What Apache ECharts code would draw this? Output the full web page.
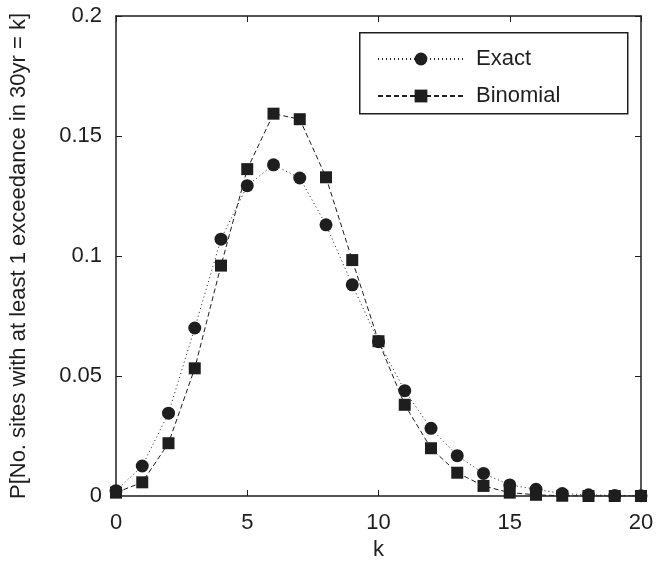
<!DOCTYPE html>
<html>
<head>
<meta charset="utf-8">
<script src="https://cdn.jsdelivr.net/npm/echarts@6/dist/echarts.min.js"></script>
<style>html,body{margin:0;padding:0;background:#fff}#c{width:670px;height:570px}</style>
</head>
<body>
<div id="c"></div>
<script>
const kValues = [0,1,2,3,4,5,6,7,8,9,10,11,12,13,14,15,16,17,18,19,20];
const exactValues = [0.0022,0.0125,0.0345,0.0700,0.1070,0.1293,0.1380,0.1325,0.1130,0.0880,0.0643,0.0439,0.0282,0.0168,0.0094,0.0046,0.0028,0.0010,0.0005,0.0002,0.0001];
const binomialValues = [0.0014,0.0057,0.0220,0.0532,0.0960,0.1362,0.1593,0.1570,0.1328,0.0983,0.0645,0.0380,0.0199,0.0097,0.0042,0.0014,0.0005,0.0001,0.0000,0.0000,0.0000];
const xTicks = [0,5,10,15,20];
const yTicks = [0,0.05,0.1,0.15,0.2];
const seriesNames = ['Exact','Binomial'];
const xTitle = 'k';
const yTitle = 'P[No. sites with at least 1 exceedance in 30yr = k]';

const FONT = 'Liberation Sans, Arial, sans-serif';
const FS = 22;
const INK = '#1e1e1e';
const chart = echarts.init(document.getElementById('c'), null, {renderer:'canvas'});
const axisCommon = {
  axisLine:{show:true, onZero:false, lineStyle:{color:INK, width:1.5}},
  axisTick:{show:true, inside:true, length:6, lineStyle:{color:INK, width:1}},
  splitLine:{show:false}
};
chart.setOption({
  animation:false,
  backgroundColor:'#fff',
  textStyle:{fontFamily:FONT},
  grid:{left:116, top:16, right:29, bottom:74, containLabel:false},
  xAxis:[
    Object.assign({type:'value', min:xTicks[0], max:xTicks[xTicks.length-1], interval:5, position:'bottom',
      name:xTitle, nameLocation:'middle', nameGap:42, nameTextStyle:{fontSize:FS, color:INK, fontFamily:FONT},
      axisLabel:{show:true, fontSize:FS, color:INK, margin:16, fontFamily:FONT}}, axisCommon),
    Object.assign({type:'value', min:xTicks[0], max:xTicks[xTicks.length-1], interval:5, position:'top',
      axisLabel:{show:false}}, axisCommon)
  ],
  yAxis:[
    Object.assign({type:'value', min:yTicks[0], max:yTicks[yTicks.length-1], interval:0.05, position:'left',
      name:yTitle, nameLocation:'middle', nameGap:86, nameTextStyle:{fontSize:FS, color:INK, fontFamily:FONT},
      axisLabel:{show:true, fontSize:FS, color:INK, margin:14, fontFamily:FONT,
        formatter:function(v){return String(Math.round(v*100)/100);}}}, axisCommon),
    Object.assign({type:'value', min:yTicks[0], max:yTicks[yTicks.length-1], interval:0.05, position:'right',
      axisLabel:{show:false}}, axisCommon)
  ],
  legend:{
    show:true, orient:'vertical', left:377, top:48,
    itemWidth:86, itemHeight:16, itemGap:15,
    textStyle:{fontSize:FS, color:INK, fontFamily:FONT, padding:[0,0,0,7]},
    data:seriesNames,
    padding:0, backgroundColor:'transparent', borderWidth:0
  },
  graphic:[{type:'rect', left:359, top:32, shape:{width:268, height:81},
    style:{fill:'transparent', stroke:INK, lineWidth:1.5}, z:1}],
  series:[
    {name:seriesNames[1], type:'line', xAxisIndex:0, yAxisIndex:0, z:2,
      data:kValues.map((k,i)=>[k, binomialValues[i]]),
      symbol:'rect', symbolSize:12, showSymbol:true,
      itemStyle:{color:INK},
      lineStyle:{color:INK, width:1, type:[5,3]}},
    {name:seriesNames[0], type:'line', xAxisIndex:0, yAxisIndex:0, z:3,
      data:kValues.map((k,i)=>[k, exactValues[i]]),
      symbol:'circle', symbolSize:13, showSymbol:true,
      itemStyle:{color:INK},
      lineStyle:{color:INK, width:1, type:[1,3]}}
  ]
});
</script>
</body>
</html>
